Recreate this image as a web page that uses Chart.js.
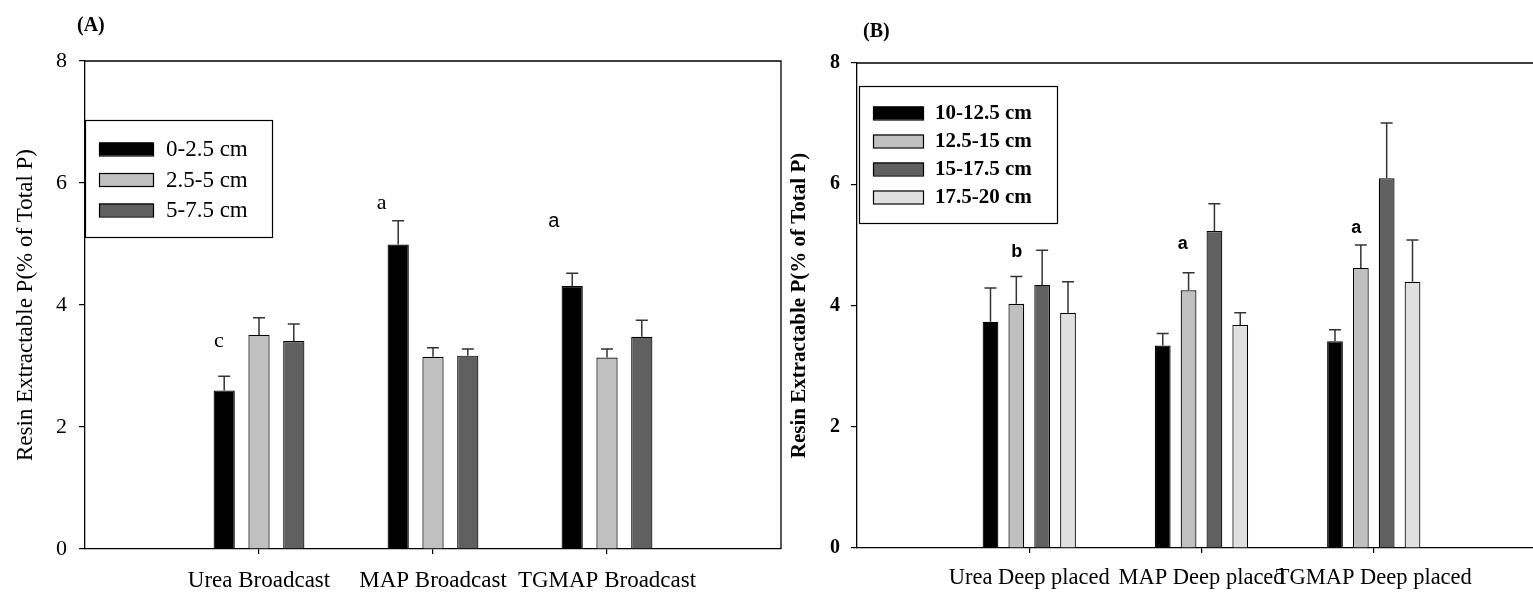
<!DOCTYPE html>
<html><head><meta charset="utf-8">
<script src="https://cdn.jsdelivr.net/npm/chart.js@4.4.1/dist/chart.umd.min.js"></script>
<style>
html,body{margin:0;padding:0;background:#fff;overflow:hidden;width:1533px;height:594px;position:relative;}
#wa{position:absolute;left:0;top:0;width:790px;height:594px;}
#wb{position:absolute;left:782px;top:0;width:790px;height:594px;}
</style></head><body>
<div id="wa"><canvas id="ca"></canvas></div>
<div id="wb"><canvas id="cb"></canvas></div>
<script>
// ---------- data ----------
const catsA = ['Urea Broadcast', 'MAP Broadcast', 'TGMAP Broadcast'];
const catsB = ['Urea Deep placed', 'MAP Deep placed', 'TGMAP Deep placed'];
const seriesA = ['0-2.5 cm', '2.5-5 cm', '5-7.5 cm'];
const seriesB = ['10-12.5 cm', '12.5-15 cm', '15-17.5 cm', '17.5-20 cm'];
const yTicks = [0, 2, 4, 6, 8];

// panel A means and errors
const a_0_25   = [2.60, 4.99, 4.31];
const a_25_5   = [3.51, 3.15, 3.14];
const a_5_75   = [3.41, 3.17, 3.48];
const a_0_25e  = [0.23, 0.39, 0.21];
const a_25_5e  = [0.28, 0.15, 0.14];
const a_5_75e  = [0.28, 0.11, 0.27];

// panel B means and errors
const b_10_125  = [3.73, 3.34, 3.41];
const b_125_15  = [4.03, 4.25, 4.62];
const b_15_175  = [4.34, 5.23, 6.10];
const b_175_20  = [3.88, 3.68, 4.39];
const b_10_125e = [0.56, 0.20, 0.19];
const b_125_15e = [0.45, 0.29, 0.38];
const b_15_175e = [0.57, 0.45, 0.91];
const b_175_20e = [0.51, 0.20, 0.69];

// significance letters: text, x (category units), y (data units)
const lettersA = ['c', 'a', 'a'];
const lettersAx = [0.77, 1.705, 2.695];
const lettersAy = [3.40, 5.67, 5.37];
const lettersB = ['b', 'a', 'a'];
const lettersBx = [0.928, 1.891, 2.898];
const lettersBy = [4.88, 5.02, 5.28];

const fills = ['#000000', '#c0c0c0', '#606060', '#e0e0e0'];
const SERIF = '"Liberation Serif", "Times New Roman", serif';
const SANS = '"Liberation Sans", Arial, sans-serif';

function makeSets(labels, vals, errs) {
  return labels.map((lab, s) => ({
    label: lab,
    data: vals[s].map((v, i) => ({x: i + 1, y: v})),
    errs: errs[s],
    backgroundColor: fills[s],
    borderColor: '#000',
    borderWidth: 1.2,
    borderSkipped: 'bottom',
    categoryPercentage: 0.6,
    barPercentage: 0.61
  }));
}

const errPlugin = {
  id: 'errbars',
  afterDatasetsDraw(chart) {
    const ctx = chart.ctx, ys = chart.scales.y;
    ctx.save();
    ctx.strokeStyle = '#333';
    ctx.lineWidth = 1.5;
    chart.data.datasets.forEach((ds, di) => {
      const meta = chart.getDatasetMeta(di);
      meta.data.forEach((el, i) => {
        const v = ds.data[i].y, e = ds.errs[i];
        const yt = ys.getPixelForValue(v + e);
        ctx.beginPath();
        ctx.moveTo(el.x, el.y);
        ctx.lineTo(el.x, yt);
        ctx.moveTo(el.x - 6, yt);
        ctx.lineTo(el.x + 6, yt);
        ctx.stroke();
      });
    });
    ctx.restore();
  }
};

const framePlugin = {
  id: 'frame',
  afterDraw(chart, args, o) {
    const ctx = chart.ctx, a = chart.chartArea;
    ctx.save();
    ctx.strokeStyle = '#000';
    ctx.lineWidth = 1.3;
    ctx.beginPath();
    ctx.moveTo(a.left, a.top); ctx.lineTo(a.right, a.top); ctx.lineTo(a.right, a.bottom);
    ctx.stroke();
    // panel title
    ctx.fillStyle = '#000';
    ctx.font = 'bold ' + o.titleSize + 'px ' + SERIF;
    ctx.textBaseline = 'middle';
    ctx.textAlign = 'left';
    ctx.fillText(o.title, o.tx, o.ty);
    // legend
    const L = o.legend;
    ctx.lineWidth = 1.2;
    ctx.fillStyle = '#fff';
    ctx.fillRect(L.x, L.y, L.w, L.h);
    ctx.strokeRect(L.x + 0.5, L.y + 0.5, L.w, L.h);
    ctx.font = (o.bold ? 'bold ' : '') + L.size + 'px ' + SERIF;
    chart.data.datasets.forEach((ds, i) => {
      const cy = L.y0 + i * L.dy;
      ctx.fillStyle = ds.backgroundColor;
      ctx.fillRect(L.sx, cy - 6.5, L.sw, 13);
      ctx.strokeStyle = '#000';
      ctx.strokeRect(L.sx + 0.5, cy - 6.5 + 0.5, L.sw, 13);
      ctx.fillStyle = '#000';
      ctx.fillText(ds.label, L.tx, cy + 1);
    });
    // letters
    const xs = chart.scales.x, ys = chart.scales.y;
    o.letters.forEach((t, i) => {
      ctx.font = o.letterFonts[i];
      ctx.textAlign = 'center';
      ctx.fillText(t, xs.getPixelForValue(o.lx[i]), ys.getPixelForValue(o.ly[i]));
    });
    ctx.restore();
  }
};

function makeChart(id, cats, sets, cfg) {
  return new Chart(document.getElementById(id), {
    type: 'bar',
    data: {datasets: sets},
    plugins: [errPlugin, framePlugin],
    options: {
      responsive: true, maintainAspectRatio: false, animation: false,
      layout: {padding: {top: cfg.top, right: cfg.right, left: 0, bottom: 0}},
      plugins: {legend: {display: false}, tooltip: {enabled: false}, frame: cfg.frame},
      scales: {
        x: {
          type: 'linear', min: 0, max: 4, offset: false,
          afterBuildTicks(s) { s.ticks = cats.map((c, i) => ({value: i + 1})); },
          afterFit(s) { s.height = cfg.xh; },
          grid: {display: true, offset: false, drawOnChartArea: false, drawTicks: true, tickLength: 5, color: '#000', lineWidth: 1.2},
          border: {display: true, color: '#000', width: 1.3},
          ticks: {
            autoSkip: false, maxRotation: 0, padding: cfg.xpad, color: '#000',
            font: {family: SERIF, size: cfg.xsize},
            callback: (v) => cats[Math.round(v) - 1]
          }
        },
        y: {
          min: 0, max: 8,
          afterBuildTicks(s) { s.ticks = yTicks.map(v => ({value: v})); },
          afterFit(s) { s.width = cfg.yw; },
          grid: {display: true, drawOnChartArea: false, drawTicks: true, tickLength: 6, color: '#000', lineWidth: 1.2},
          border: {display: true, color: '#000', width: 1.3},
          ticks: {padding: cfg.ypad, color: '#000', font: {family: SERIF, size: cfg.ysize, weight: cfg.bold ? 'bold' : 'normal'}},
          title: {display: true, text: 'Resin Extractable P(% of Total P)', color: '#000',
            padding: {top: cfg.tpad, bottom: 0},
            font: {family: SERIF, size: cfg.tsize, weight: cfg.bold ? 'bold' : 'normal'}}
        }
      }
    }
  });
}

makeChart('ca', catsA,
  makeSets(seriesA, [a_0_25, a_25_5, a_5_75], [a_0_25e, a_25_5e, a_5_75e]),
  {top: 61, right: 9, xh: 45, yw: 85, xpad: 13, xsize: 23, ypad: 12, ysize: 22, tpad: 12, tsize: 23, bold: false,
   frame: {title: '(A)', titleSize: 20, tx: 77, ty: 26, bold: false,
     legend: {x: 85, y: 120, w: 187, h: 117, sx: 99, sw: 54, tx: 166, y0: 149, dy: 30.5, size: 23},
     letters: lettersA, lx: lettersAx, ly: lettersAy,
     letterFonts: ['22px ' + SERIF, '22px ' + SERIF, '20px ' + SANS]}});

makeChart('cb', catsB,
  makeSets(seriesB, [b_10_125, b_125_15, b_15_175, b_175_20], [b_10_125e, b_125_15e, b_15_175e, b_175_20e]),
  {top: 63, right: 26, xh: 46, yw: 75, xpad: 12, xsize: 22.5, ypad: 11, ysize: 20, tpad: 5, tsize: 21, bold: true,
   frame: {title: '(B)', titleSize: 20, tx: 81, ty: 32, bold: true,
     legend: {x: 77, y: 86, w: 198, h: 137, sx: 91, sw: 50, tx: 153, y0: 113, dy: 28, size: 21},
     letters: lettersB, lx: lettersBx, ly: lettersBy,
     letterFonts: ['bold 18px ' + SANS, 'bold 18px ' + SANS, 'bold 18px ' + SANS]}});
</script>
</body></html>
